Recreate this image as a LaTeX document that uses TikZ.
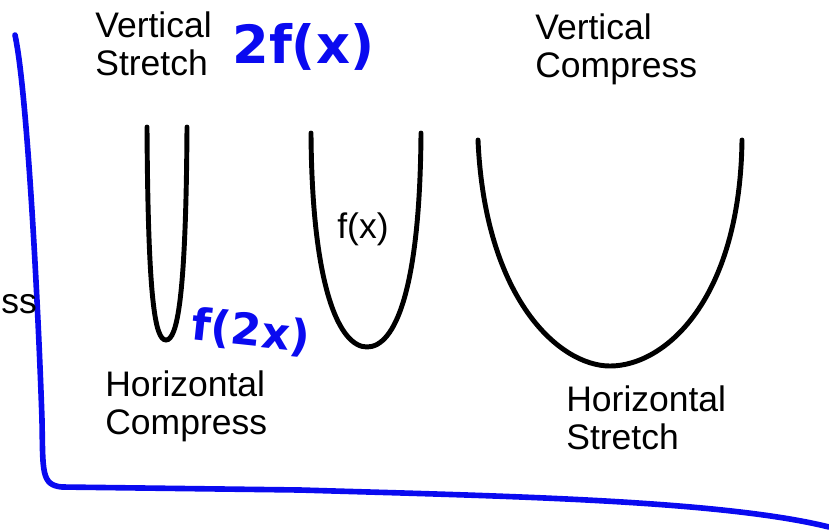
\documentclass[tikz,border=0pt]{standalone}
\usepackage{fontspec}
\setmainfont{Liberation Sans}
\newfontfamily\inkfont{DejaVu Sans}
\definecolor{ink}{RGB}{10,10,240}
\tikzset{
  label/.style={align=left, inner sep=0pt, font=\fontsize{20.2}{22}\selectfont},
  curve/.style={line width=2.8pt, line cap=round},
  pen/.style={ink, line width=3.2pt, line cap=round, line join=round},
  note/.style={ink, inner sep=0pt, font=\inkfont\bfseries\fontsize{30}{32}\selectfont}
}
\begin{document}
\begin{tikzpicture}[x=0.02cm, y=-0.02cm]
\useasboundingbox (0,0) rectangle (829,529);
% axes drawn by hand
\draw[pen] (15,35) .. controls (27,90) and (38,300) .. (42,420)
  .. controls (43,472) and (41,485) .. (62,487)
  -- (300,490) .. controls (500,496) and (720,500) .. (829,527);
% the three parabolas
\draw[curve] (147,127) .. controls (148,300) and (155,340) .. (166,340)
  .. controls (177,340) and (186,300) .. (187,127);
\draw[curve] (311,133) .. controls (312,290) and (340,347) .. (367,347)
  .. controls (395,347) and (420,290) .. (421,133);
\draw[curve] (478,140) .. controls (485,300) and (560,366) .. (610,366)
  .. controls (665,366) and (740,300) .. (742,140);
% labels
\node[label, anchor=north west] (vstretch) at (95,11) {Vertical\\Stretch};
\node[label, anchor=north west] (vcompress) at (535,13) {Vertical\\Compress};
\node[label, anchor=north west] (hcompress) at (105,370) {Horizontal\\Compress};
\node[label, anchor=north west] (hstretch) at (566,385) {Horizontal\\Stretch};
\node[label, anchor=north west] (fx) at (337,212) {f(x)};
\node[label, anchor=base west] (cut) at (1,313) {ss};
% handwritten notes
\node[note, anchor=west] (twofx) at (232,47) {2f(x)};
\node[note, anchor=west, rotate=-6, font=\inkfont\bfseries\fontsize{25}{27}\selectfont] (ftwox) at (192,326) {f(2x)};
\end{tikzpicture}
\end{document}
